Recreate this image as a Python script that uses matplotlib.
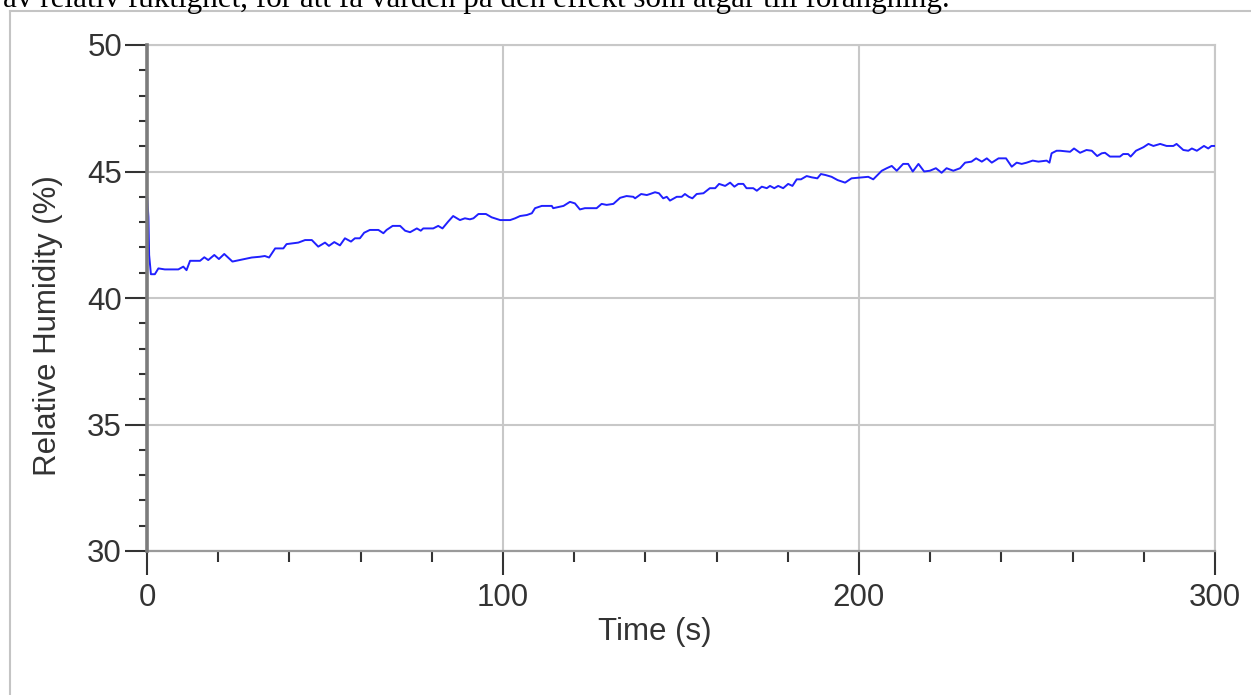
import matplotlib
matplotlib.use("Agg")
import matplotlib.pyplot as plt
from matplotlib.lines import Line2D
from matplotlib.ticker import MultipleLocator

# Logged relative humidity over time
time_s = [
    0.0, 0.4, 0.6, 1.1, 2.2, 3.2, 5.0, 6.9, 8.8, 10.2, 11.1, 12.1, 14.9, 16.1,
    17.2, 18.9, 20.2, 21.7, 24.0, 27.0, 29.4, 31.7, 33.1, 34.3, 36.0, 38.3,
    39.2, 42.5, 44.4, 46.3, 48.1, 50.0, 51.1, 52.6, 54.2, 55.6, 57.3, 58.4,
    59.8, 61.0, 62.6, 65.0, 66.4, 67.3, 69.0, 71.1, 72.5, 73.9, 75.8, 76.9,
    77.6, 80.4, 81.8, 83.0, 84.6, 86.0, 87.9, 89.3, 90.7, 91.7, 93.1, 95.2,
    96.8, 99.2, 102.0, 103.4, 104.8, 106.7, 108.1, 109.0, 110.9, 113.7, 114.1,
    117.0, 118.8, 120.2, 121.6, 123.0, 124.9, 126.3, 127.7, 129.1, 131.0,
    132.9, 134.7, 136.6, 137.1, 138.8, 140.4, 141.3, 142.7, 143.8, 145.0,
    146.0, 146.9, 148.8, 150.2, 151.1, 152.2, 153.2, 154.4, 156.3, 158.1,
    159.6, 160.7, 162.4, 163.8, 165.0, 166.1, 167.5, 168.4, 170.3, 171.3,
    172.7, 174.1, 175.0, 176.2, 177.3, 178.7, 180.1, 181.3, 182.5, 183.7,
    185.3, 186.7, 188.3, 189.3, 190.6, 192.3, 194.0, 196.1, 197.9, 201.2,
    202.6, 204.0, 206.4, 207.8, 209.2, 210.6, 212.4, 213.8, 215.1, 216.7,
    218.3, 219.9, 221.6, 223.2, 224.6, 226.5, 228.4, 229.8, 231.6, 232.9,
    234.5, 235.9, 237.3, 239.2, 241.3, 242.9, 244.3, 245.7, 247.1, 248.8,
    250.4, 252.7, 253.5, 254.1, 255.5, 256.5, 259.3, 260.4, 262.1, 263.9,
    265.4, 266.9, 268.2, 269.1, 270.5, 273.3, 274.2, 275.6, 276.3, 277.8,
    279.9, 281.3, 282.7, 284.6, 286.4, 288.3, 289.2, 291.1, 292.5, 293.5,
    294.9, 296.9, 298.1, 299.0, 300.0,
]
humidity_pct = [
    44.07, 43.2, 41.7, 40.94, 40.94, 41.17, 41.13, 41.13, 41.13, 41.24, 41.1,
    41.47, 41.47, 41.61, 41.5, 41.7, 41.54, 41.74, 41.44, 41.53, 41.6, 41.63,
    41.66, 41.6, 41.96, 41.96, 42.13, 42.19, 42.29, 42.29, 42.03, 42.19, 42.06,
    42.21, 42.08, 42.36, 42.23, 42.36, 42.36, 42.58, 42.69, 42.69, 42.56,
    42.69, 42.85, 42.85, 42.66, 42.6, 42.75, 42.66, 42.75, 42.75, 42.85,
    42.75, 43.02, 43.24, 43.08, 43.15, 43.11, 43.15, 43.32, 43.32, 43.19,
    43.08, 43.08, 43.15, 43.24, 43.28, 43.35, 43.55, 43.64, 43.64, 43.55,
    43.64, 43.8, 43.74, 43.5, 43.55, 43.55, 43.55, 43.72, 43.68, 43.72,
    43.96, 44.03, 44.0, 43.94, 44.11, 44.07, 44.11, 44.18, 44.14, 43.94,
    44.0, 43.85, 44.0, 44.0, 44.11, 44.0, 43.94, 44.11, 44.14, 44.34, 44.34,
    44.51, 44.43, 44.56, 44.4, 44.51, 44.51, 44.34, 44.34, 44.24, 44.4,
    44.34, 44.43, 44.34, 44.43, 44.34, 44.51, 44.43, 44.69, 44.69, 44.82,
    44.77, 44.73, 44.9, 44.86, 44.79, 44.66, 44.56, 44.73, 44.77, 44.79,
    44.69, 45.03, 45.13, 45.22, 45.03, 45.3, 45.3, 45.0, 45.3, 45.0, 45.03,
    45.13, 44.95, 45.13, 45.03, 45.13, 45.35, 45.39, 45.52, 45.39, 45.52,
    45.35, 45.52, 45.52, 45.19, 45.35, 45.3, 45.35, 45.43, 45.39, 45.43,
    45.35, 45.72, 45.82, 45.82, 45.78, 45.91, 45.74, 45.85, 45.82, 45.61,
    45.72, 45.74, 45.59, 45.59, 45.69, 45.69, 45.59, 45.82, 45.96, 46.09,
    46.01, 46.09, 46.01, 46.01, 46.09, 45.85, 45.82, 45.91, 45.82, 46.01,
    45.91, 46.01, 46.01,
]

x_ticks = [0, 100, 200, 300]
y_ticks = [30, 35, 40, 45, 50]
x_label = "Time (s)"
y_label = "Relative Humidity (%)"
caption = "av relativ fuktighet, för att få värden på den effekt som åtgår till förångning."

W, H, DPI = 1251, 695, 100
fig = plt.figure(figsize=(W / DPI, H / DPI), dpi=DPI, facecolor="white")
ax = fig.add_axes([147 / W, 1 - 551 / H, (1215 - 147) / W, (551 - 45) / H])

# Running text line above the chart (partly clipped at the top edge)
fig.text(3 / W, 1 - 7 / H, caption, fontfamily="Liberation Serif",
         fontsize=22.4, color="black", ha="left", va="baseline")

# Light frame around the chart area
frame_col = "#c4c4c4"
fig.add_artist(Line2D([10 / W, 10 / W], [0, 1 - 11 / H], transform=fig.transFigure,
                      color=frame_col, lw=1.5))
fig.add_artist(Line2D([10 / W, 1], [1 - 11 / H, 1 - 11 / H], transform=fig.transFigure,
                      color=frame_col, lw=1.5))

grid_col = "#c8c8c8"
ax.set_xlim(0, 300)
ax.set_ylim(30, 50)
ax.set_xticks(x_ticks)
ax.set_yticks(y_ticks)
ax.xaxis.set_minor_locator(MultipleLocator(20))
ax.yaxis.set_minor_locator(MultipleLocator(1))
ax.grid(True, which="major", color=grid_col, lw=1.5)
ax.set_axisbelow(True)

ax.plot(time_s, humidity_pct, color="#2020ff", lw=1.4, zorder=3)

for side in ("top", "right"):
    ax.spines[side].set_color(grid_col)
    ax.spines[side].set_linewidth(1.5)
ax.spines["left"].set_color("#7c7c7c")
ax.spines["left"].set_linewidth(2.6)
ax.spines["bottom"].set_color("#9a9a9a")
ax.spines["bottom"].set_linewidth(1.6)
ax.spines["left"].set_zorder(4)

tick_font = dict(fontfamily="Liberation Sans", fontsize=22.5)
text_col = "#333333"
ax.tick_params(axis="y", which="major", direction="out", length=16, width=1.5,
               color="#333333", pad=2, labelcolor=text_col, labelsize=22.5)
ax.tick_params(axis="y", which="minor", direction="out", length=6, width=1.5,
               color="#333333")
ax.tick_params(axis="x", which="major", direction="out", length=17, width=1.5,
               color="#333333", pad=6, labelcolor=text_col, labelsize=22.5)
ax.tick_params(axis="x", which="minor", direction="out", length=8, width=1.5,
               color="#333333")
for lab in ax.get_xticklabels() + ax.get_yticklabels():
    lab.set_fontfamily("Liberation Sans")

ax.set_xlabel(x_label, color=text_col, **tick_font)
ax.set_ylabel(y_label, color=text_col, **tick_font)
ax.xaxis.set_label_coords(0.4757, -0.16)
ax.yaxis.set_label_coords(-0.0925, 0.4447)
ax.xaxis.label.set_va("center")
ax.yaxis.label.set_va("center")

fig.savefig("out.png", dpi=DPI, facecolor="white")
